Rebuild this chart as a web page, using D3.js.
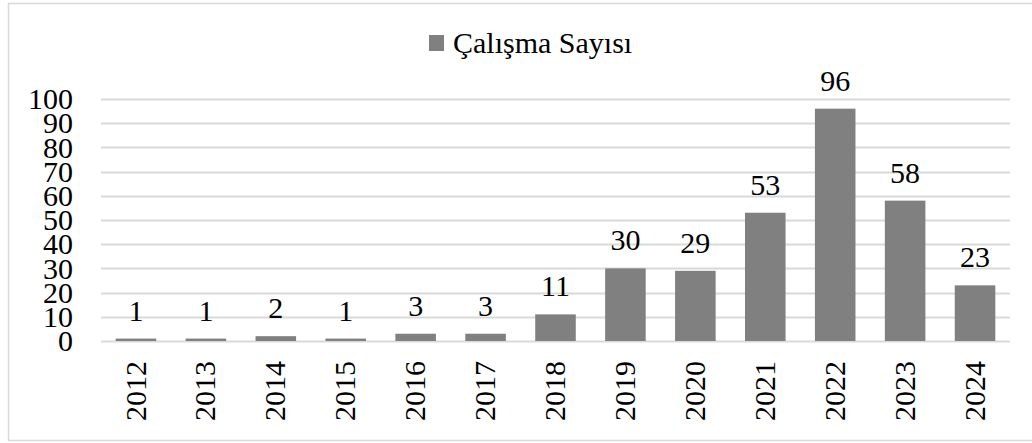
<!DOCTYPE html>
<html>
<head>
<meta charset="utf-8">
<script src="https://cdn.jsdelivr.net/npm/d3@7"></script>
<style>
  body { margin: 0; background: #fff; overflow: hidden; }
  text { font-family: "Liberation Serif", "DejaVu Serif", serif; fill: #000; }
</style>
</head>
<body>
<svg id="chart"></svg>
<script>
const WIDTH = 1032;
const HEIGHT = 443;

// Data.
const years = ['2012', '2013', '2014', '2015', '2016', '2017', '2018',
  '2019', '2020', '2021', '2022', '2023', '2024'];
const counts = [1, 1, 2, 1, 3, 3, 11, 30, 29, 53, 96, 58, 23];
const yTicks = [0, 10, 20, 30, 40, 50, 60, 70, 80, 90, 100];
const seriesName = 'Çalışma Sayısı';

const margin = {left: 101, right: 22, top: 99, bottom: 102};
const FONT = 30;
const BAR = '#808080';
const GRID = '#d9d9d9';

const svg = d3.select('#chart')
  .attr('width', WIDTH)
  .attr('height', HEIGHT);

// Outer frame (its right edge runs off the picture).
svg.append('rect')
  .attr('x', 8.5).attr('y', 3.5)
  .attr('width', 1040).attr('height', 437)
  .attr('fill', '#fff')
  .attr('stroke', GRID)
  .attr('stroke-width', 1.5);

const x = d3.scaleBand()
  .domain(years)
  .range([margin.left, WIDTH - margin.right])
  .paddingInner(0.42)
  .paddingOuter(0.21);

const y = d3.scaleLinear()
  .domain([0, 100])
  .range([HEIGHT - margin.bottom, margin.top]);

// Gridlines.
svg.append('g')
  .selectAll('line')
  .data(yTicks)
  .join('line')
  .attr('x1', margin.left)
  .attr('x2', WIDTH - margin.right)
  .attr('y1', d => Math.round(y(d)) + 0.5)
  .attr('y2', d => Math.round(y(d)) + 0.5)
  .attr('stroke', GRID)
  .attr('stroke-width', 2);

// Y axis labels.
const yAxis = svg.append('g')
  .attr('transform', 'translate(73,0)')
  .call(d3.axisLeft(y).tickValues(yTicks).tickSize(0).tickPadding(0));
yAxis.select('.domain').remove();
yAxis.selectAll('text')
  .attr('font-size', FONT)
  .attr('dy', '0.32em');

// Bars.
svg.append('g')
  .selectAll('rect')
  .data(counts)
  .join('rect')
  .attr('x', (d, i) => x(years[i]))
  .attr('y', d => y(d))
  .attr('width', x.bandwidth())
  .attr('height', d => y(0) - y(d))
  .attr('fill', BAR);

// Value labels.
svg.append('g')
  .selectAll('text')
  .data(counts)
  .join('text')
  .attr('x', (d, i) => x(years[i]) + x.bandwidth() / 2)
  .attr('y', d => y(d) - 18)
  .attr('text-anchor', 'middle')
  .attr('font-size', FONT)
  .text(d => d);

// X axis labels, rotated.
const xAxis = svg.append('g')
  .attr('transform', `translate(0,${y(0)})`)
  .call(d3.axisBottom(x).tickSize(0).tickPadding(0));
xAxis.select('.domain').remove();
xAxis.selectAll('text')
  .attr('font-size', FONT)
  .attr('text-anchor', 'end')
  .attr('transform', 'rotate(-90)')
  .attr('x', -20)
  .attr('y', 0)
  .attr('dy', '0.32em');

// Legend.
const legend = svg.append('g');
legend.append('rect')
  .attr('x', 429).attr('y', 35)
  .attr('width', 15).attr('height', 16)
  .attr('fill', BAR);
legend.append('text')
  .attr('x', 453).attr('y', 53)
  .attr('font-size', FONT)
  .text(seriesName);
</script>
</body>
</html>
